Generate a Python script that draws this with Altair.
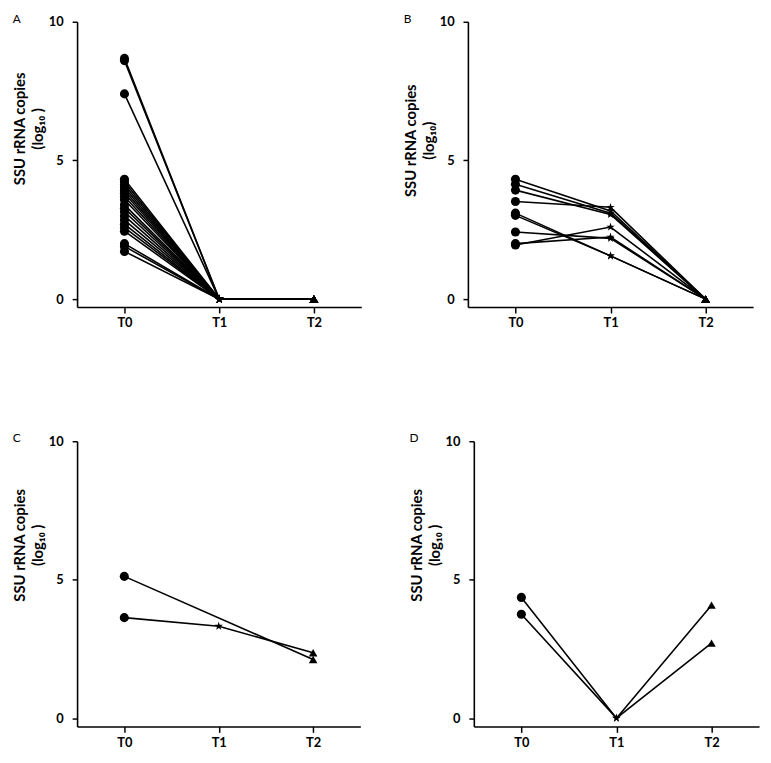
import altair as alt
import pandas as pd

times = ["T0", "T1", "T2"]

# Panel A: T0 values; all fall to 0 at T1 and T2
a_t0 = [8.68, 8.60, 7.40, 4.32, 4.22, 4.12, 4.02, 3.92, 3.82, 3.70, 3.58, 3.40,
        3.28, 3.15, 3.00, 2.85, 2.70, 2.58, 2.45, 2.00, 1.90, 1.72]
a_t1 = [0.0] * len(a_t0)
a_t2 = [0.0] * len(a_t0)

# Panel B
b_t0 = [4.32, 4.14, 3.93, 3.52, 3.10, 3.02, 2.42, 1.95, 2.00]
b_t1 = [3.18, 3.10, 3.05, 3.31, 1.56, 1.56, 2.19, 2.60, 2.24]
b_t2 = [0.0] * len(b_t0)

# Panel C (first series has no T1 value)
c_t0 = [5.12, 3.63]
c_t1 = [None, 3.32]
c_t2 = [2.12, 2.36]

# Panel D
d_t0 = [4.36, 3.75]
d_t1 = [0.0, 0.0]
d_t2 = [4.08, 2.71]

STAR = ("M0,-1L0.2245,-0.309L0.951,-0.309L0.3633,0.118L0.588,0.809L0,0.382"
        "L-0.588,0.809L-0.3633,0.118L-0.951,-0.309L-0.2245,-0.309Z")
shapes = ["circle", STAR, "triangle-up"]
sizes = [85, 80, 75]


def long_df(t0, t1, t2):
    rows = []
    for i, vals in enumerate(zip(t0, t1, t2)):
        for k, v in enumerate(vals):
            if v is not None:
                rows.append({"id": i, "t": k, "val": v})
    return pd.DataFrame(rows)


def panel(df, letter, ytitle, width, height, ymin, title_y):
    x = alt.X("t:Q", scale=alt.Scale(domain=[-0.5, 2.5], nice=False, zero=False),
              axis=alt.Axis(title=None, values=[0, 1, 2], labelExpr="'T' + datum.value",
                            tickSize=6, labelPadding=4))
    y = alt.Y("val:Q", scale=alt.Scale(domain=[ymin, 10], nice=False, zero=False),
              axis=alt.Axis(values=[0, 5, 10], title=ytitle, tickSize=5,
                            labelPadding=9, titlePadding=3, titleY=title_y,
                            titleLineHeight=18))
    layers = [alt.Chart(df).mark_line(color="black", strokeWidth=1.6).encode(
        x=x, y=y, detail="id:N")]
    for k in range(3):
        layers.append(
            alt.Chart(df[df["t"] == k]).mark_point(
                filled=True, color="black", opacity=1, shape=shapes[k], size=sizes[k]
            ).encode(x=x, y=y))
    return alt.layer(*layers).properties(
        width=width, height=height,
        title=alt.TitleParams(letter, anchor="start", frame="bounds", fontSize=12,
                              font="Lato", fontWeight="normal", color="black",
                              offset=-10))


pA = panel(long_df(a_t0, a_t1, a_t2), "A", ["SSU rRNA copies", "(log\u2081\u2080 )"],
           288, 289, -0.285, 108)
pB = panel(long_df(b_t0, b_t1, b_t2), "B", ["SSU rRNA copies", "(log\u2081\u2080)"],
           289, 289, -0.285, 120)
pC = panel(long_df(c_t0, c_t1, c_t2), "C", ["SSU rRNA copies", "(log\u2081\u2080 )"],
           287, 289, -0.3, 105)
pD = panel(long_df(d_t0, d_t1, d_t2), "D", ["SSU rRNA copies", "(log\u2081\u2080 )"],
           289, 289, -0.3, 105)

row1 = alt.hconcat(pA, pB, spacing=42)
row2 = alt.hconcat(pC, pD, spacing=49)
chart = alt.vconcat(row1, row2, spacing=104).properties(
    padding={"left": 4, "top": 0, "right": 4, "bottom": 5}
).configure_view(stroke=None).configure_axis(
    grid=False, domainColor="black", domainWidth=1.6, tickColor="black", tickWidth=1.5,
    labelFont="Lato", labelFontWeight="bold", labelFontSize=13, labelColor="black",
    titleFont="Lato", titleFontWeight="bold", titleFontSize=15, titleColor="black"
)

chart.save("out.html", embed_options={"renderer": "svg", "actions": False})
